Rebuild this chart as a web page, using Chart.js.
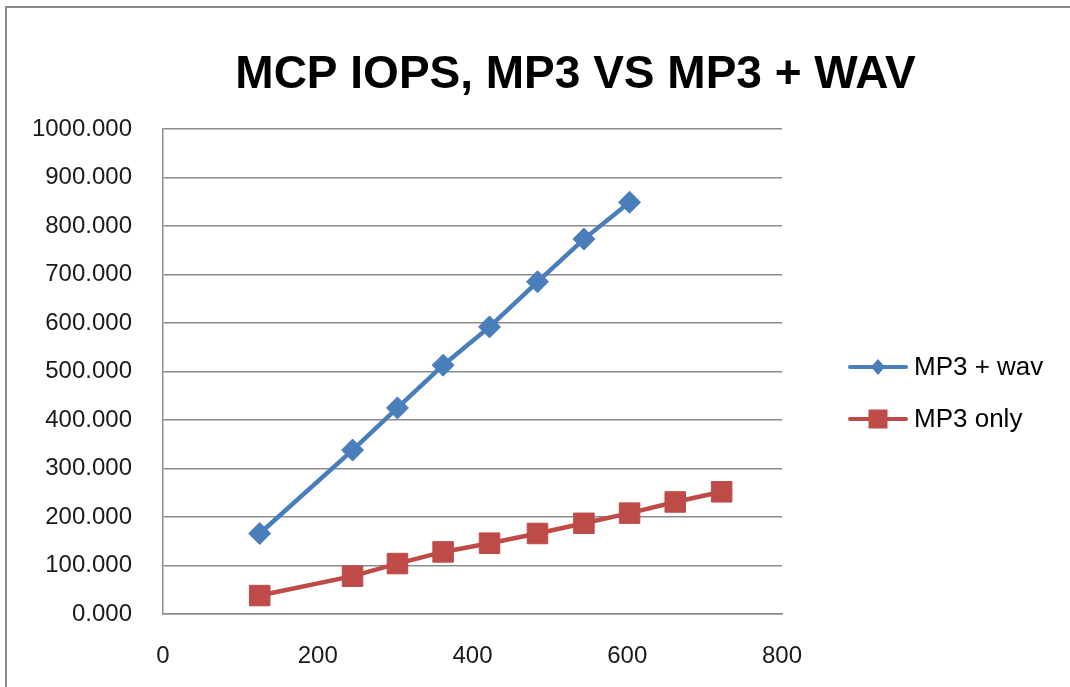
<!DOCTYPE html>
<html>
<head>
<meta charset="utf-8">
<title>MCP IOPS, MP3 VS MP3 + WAV</title>
<script src="https://cdn.jsdelivr.net/npm/chart.js@4.4.1/dist/chart.umd.min.js"></script>
<style>
  html, body { margin: 0; padding: 0; background: #fff; overflow: hidden; }
  #wrap { position: relative; width: 1070px; height: 687px; overflow: hidden; }
  #frame { position: absolute; left: 5px; top: 6px; width: 1100px; height: 700px;
           border-left: 2px solid #8a8a8a; border-top: 2px solid #8a8a8a; }
  #iopsChart { position: absolute; left: 0; top: 0; }
</style>
</head>
<body>
<div id="wrap">
  <div id="frame"></div>
  <canvas id="iopsChart" width="1126" height="687"></canvas>
</div>
<script>
const chartTitle = 'MCP IOPS, MP3 VS MP3 + WAV';
const seriesNames = ['MP3 + wav', 'MP3 only'];
const xValues = [125, 245, 303, 362, 422, 484, 544, 603, 662, 722];
const wavValues = [166, 338, 425, 513, 592, 685, 773, 849];
const mp3Values = [38, 78, 104, 128, 146, 166, 187, 208, 231, 252];
const xTicks = [0, 200, 400, 600, 800];
const yTicks = [0, 100, 200, 300, 400, 500, 600, 700, 800, 900, 1000];

const blue = '#4a7ebb';
const red = '#be4b48';
const gridColor = '#8c8c8c';
const tickFont = { family: "'Liberation Sans', Arial, sans-serif", size: 24 };

// plot box in page pixels; canvas is a bit wider than the page so the
// title centre lands where the original has it
const canvasW = 1126, canvasH = 687;
const plotLeft = 163, plotRight = 782, plotTop = 129, plotBottom = 614;
const padLeft = 25;

function fitFontSize(text, font, width) {
  const c = document.createElement('canvas').getContext('2d');
  c.font = font.replace('SIZE', '100px');
  return 100 * width / c.measureText(text).width;
}
const titleFamily = "'Liberation Sans Narrow', 'Liberation Sans', Arial, sans-serif";
const titleSize = Math.round(fitFontSize(chartTitle, 'bold SIZE ' + titleFamily, 685));
const titleTop = Math.round(75 - titleSize / 2);

function toPoints(values) {
  return values.map((v, i) => ({ x: xValues[i], y: v }));
}

// legend: line with marker, like the spreadsheet one
const sideLegend = {
  id: 'sideLegend',
  afterDraw(chart) {
    const ctx = chart.ctx;
    const rows = [367, 419];
    chart.data.datasets.forEach((ds, i) => {
      const y = rows[i];
      const cx = 878;
      ctx.save();
      ctx.strokeStyle = ds.borderColor;
      ctx.fillStyle = ds.borderColor;
      ctx.lineWidth = 4;
      ctx.lineCap = 'round';
      ctx.beginPath();
      ctx.moveTo(850, y);
      ctx.lineTo(906, y);
      ctx.stroke();
      ctx.beginPath();
      if (ds.pointStyle === 'rectRot') {
        ctx.moveTo(cx - 7, y);
        ctx.lineTo(cx, y - 8);
        ctx.lineTo(cx + 7, y);
        ctx.lineTo(cx, y + 8);
        ctx.closePath();
      } else {
        ctx.rect(cx - 9.5, y - 9.5, 19, 19);
      }
      ctx.fill();
      ctx.fillStyle = '#000';
      ctx.font = "26px 'Liberation Sans', Arial, sans-serif";
      ctx.textBaseline = 'alphabetic';
      ctx.fillText(ds.label, 914, y + 8);
      ctx.restore();
    });
  }
};

new Chart(document.getElementById('iopsChart'), {
  type: 'line',
  data: {
    datasets: [{
      label: seriesNames[0],
      data: toPoints(wavValues),
      borderColor: blue,
      backgroundColor: blue,
      borderWidth: 4.5,
      pointStyle: 'rectRot',
      pointRadius: 11,
      pointBorderWidth: 1,
      tension: 0
    }, {
      label: seriesNames[1],
      data: toPoints(mp3Values),
      borderColor: red,
      backgroundColor: red,
      borderWidth: 4.5,
      pointStyle: 'rect',
      pointRadius: 14.5,
      pointBorderWidth: 1,
      tension: 0
    }]
  },
  options: {
    responsive: false,
    animation: false,
    layout: { padding: { left: padLeft, right: 0, top: 0, bottom: 0 } },
    plugins: {
      legend: { display: false },
      tooltip: { enabled: false },
      title: {
        display: true,
        text: chartTitle,
        color: '#000',
        font: { family: titleFamily, size: titleSize, weight: 'bold', lineHeight: 1 },
        padding: { top: titleTop, bottom: plotTop - titleTop - titleSize }
      }
    },
    scales: {
      x: {
        type: 'linear',
        min: 0,
        max: 800,
        afterBuildTicks: s => { s.ticks = xTicks.map(v => ({ value: v })); },
        afterFit: s => { s.height = canvasH - plotBottom; },
        grid: { display: false, drawTicks: false },
        border: { display: true, color: gridColor, width: 1.5 },
        ticks: { color: '#1a1a1a', font: tickFont, padding: 28, maxRotation: 0 }
      },
      y: {
        type: 'linear',
        position: 'left',
        min: 0,
        max: 1000,
        afterBuildTicks: s => { s.ticks = yTicks.map(v => ({ value: v })); },
        afterFit: s => { s.width = plotLeft - padLeft; },
        grid: { color: gridColor, lineWidth: 1.5, drawTicks: false },
        border: { display: true, color: gridColor, width: 1.5 },
        ticks: { color: '#1a1a1a', font: tickFont, padding: 31, callback: v => v.toFixed(3) }
      },
      side: {
        type: 'linear',
        position: 'right',
        afterFit: s => { s.width = canvasW - plotRight; },
        grid: { display: false, drawTicks: false },
        border: { display: false },
        ticks: { display: false }
      }
    }
  },
  plugins: [sideLegend]
});
</script>
</body>
</html>
